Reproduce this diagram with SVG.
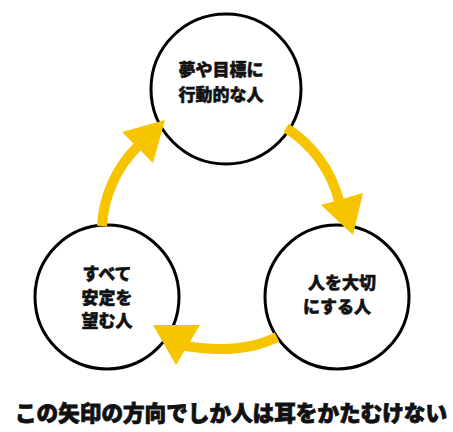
<svg xmlns="http://www.w3.org/2000/svg" width="453" height="432" viewBox="0 0 453 432">
<style>
.node circle{fill:#fff;stroke:#000;stroke-width:3}
.lbl{font-family:"Noto Sans CJK JP","Noto Sans",sans-serif;font-weight:900;font-size:17px;fill:#111;stroke:#111;stroke-width:0.5;text-anchor:middle}
.shaft{fill:none;stroke:#F7C400;stroke-width:10}
.head{fill:#F7C400}
.caption{font-family:"Noto Sans CJK JP","Noto Sans",sans-serif;font-weight:900;font-size:21.5px;fill:#111;stroke:#111;stroke-width:0.8;text-anchor:middle}
</style>
<rect width="453" height="432" fill="#fff"/>
<g id="node-top" class="node">
<circle cx="226" cy="89" r="75"/>
<text class="lbl" x="221" y="76">夢や目標に</text>
<text class="lbl" x="221" y="101">行動的な人</text>
</g>
<g id="node-right" class="node">
<circle cx="337" cy="297" r="72"/>
<text class="lbl" x="342" y="289">人を大切</text>
<text class="lbl" x="337" y="313">にする人</text>
</g>
<g id="node-left" class="node">
<circle cx="107" cy="297" r="72"/>
<text class="lbl" x="107" y="280">すべて</text>
<text class="lbl" x="107" y="304">安定を</text>
<text class="lbl" x="107" y="327">望む人</text>
</g>
<g id="connectors">
<path class="shaft" d="M102 226 A122 122 0 0 1 138 146"/>
<polygon class="head" points="165,120 122,132 153,163"/>
<path class="shaft" d="M286 128 A120 120 0 0 1 339 201"/>
<polygon class="head" points="353,235 321,205 363,193"/>
<path class="shaft" d="M277 337 Q240 356 180 345"/>
<polygon class="head" points="153,325 200,325 176,365"/>
</g>
<text class="caption" x="231" y="421" textLength="432" lengthAdjust="spacingAndGlyphs">この矢印の方向でしか人は耳をかたむけない</text>
</svg>
